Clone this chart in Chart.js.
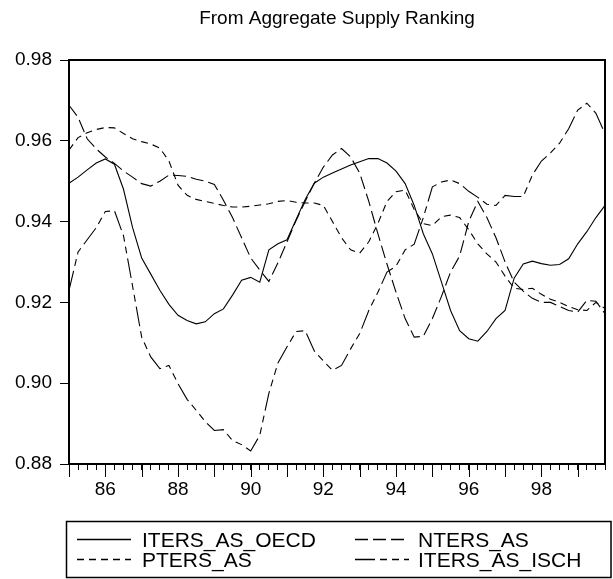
<!DOCTYPE html>
<html>
<head>
<meta charset="utf-8">
<script src="https://cdn.jsdelivr.net/npm/chart.js@4.4.0/dist/chart.umd.min.js"></script>
<style>
html, body { margin: 0; padding: 0; background: #fff; }
#wrap { width: 613px; height: 579px; position: relative; }
</style>
</head>
<body>
<div id="wrap"><canvas id="myChart"></canvas></div>
<script>
const chartTitle = 'From Aggregate Supply Ranking'
const years = ['85', '86', '87', '88', '89', '90', '91', '92', '93', '94', '95', '96', '97', '98', '99']
const labelYears = ['86', '88', '90', '92', '94', '96', '98']

// quarterly observations 1985Q1 .. 1999Q4
const itersAsOecd = [
  0.9495, 0.9510, 0.9528, 0.9545, 0.9555, 0.9542, 0.9480, 0.9385,
  0.9310, 0.9270, 0.9230, 0.9195, 0.9168, 0.9155, 0.9147, 0.9152,
  0.9172, 0.9184, 0.9218, 0.9255, 0.9262, 0.9250, 0.9330, 0.9345,
  0.9355, 0.9405, 0.9455, 0.9495, 0.9510, 0.9520, 0.9530, 0.9540,
  0.9548, 0.9556, 0.9556, 0.9545, 0.9525, 0.9494, 0.9440, 0.9370,
  0.9320, 0.9250, 0.9180, 0.9130, 0.9110, 0.9104, 0.9128, 0.9160,
  0.9180, 0.9260, 0.9295, 0.9302, 0.9296, 0.9292, 0.9294, 0.9308,
  0.9345, 0.9375, 0.9410, 0.9440
]
const ntersAs = [
  0.9688, 0.9658, 0.9605, 0.9580, 0.9560, 0.9544, 0.9525, 0.9510,
  0.9494, 0.9488, 0.9500, 0.9515, 0.9514, 0.9512, 0.9505, 0.9500,
  0.9492, 0.9453, 0.9410, 0.9360, 0.9310, 0.9280, 0.9252, 0.9298,
  0.9350, 0.9403, 0.9450, 0.9495, 0.9535, 0.9565, 0.9581, 0.9560,
  0.9520, 0.9450, 0.9370, 0.9295, 0.9225, 0.9160, 0.9114, 0.9116,
  0.9160, 0.9215, 0.9275, 0.9315, 0.9400, 0.9450, 0.9410, 0.9360,
  0.9300, 0.9250, 0.9228, 0.9210, 0.9200, 0.9200, 0.9190, 0.9180,
  0.9176, 0.9205, 0.9203, 0.9172
]
const ptersAs = [
  0.9577, 0.9608, 0.9620, 0.9628, 0.9633, 0.9632, 0.9618, 0.9605,
  0.9598, 0.9592, 0.9582, 0.9550, 0.9490, 0.9465, 0.9455, 0.9450,
  0.9445, 0.9440, 0.9436, 0.9436, 0.9438, 0.9441, 0.9444, 0.9450,
  0.9452, 0.9448, 0.9446, 0.9446, 0.9440, 0.9400, 0.9360, 0.9330,
  0.9322, 0.9350, 0.9395, 0.9450, 0.9474, 0.9478, 0.9430, 0.9395,
  0.9390, 0.9412, 0.9416, 0.9410, 0.9380, 0.9345, 0.9320, 0.9300,
  0.9265, 0.9235, 0.9232, 0.9235, 0.9220, 0.9208, 0.9200, 0.9190,
  0.9182, 0.9180, 0.9200, 0.9185
]
const itersAsIsch = [
  0.9230, 0.9325, 0.9355, 0.9385, 0.9425, 0.9427, 0.9365, 0.9240,
  0.9114, 0.9065, 0.9036, 0.9044, 0.8999, 0.8960, 0.8933, 0.8905,
  0.8883, 0.8885, 0.8858, 0.8848, 0.8832, 0.8871, 0.8975, 0.9050,
  0.9090, 0.9128, 0.9130, 0.9080, 0.9055, 0.9032, 0.9044, 0.9085,
  0.9123, 0.9180, 0.9225, 0.9275, 0.9290, 0.9330, 0.9344, 0.9410,
  0.9486, 0.9498, 0.9503, 0.9494, 0.9475, 0.9460, 0.9443, 0.9440,
  0.9465, 0.9462, 0.9462, 0.9515, 0.9550, 0.9570, 0.9594, 0.9630,
  0.9676, 0.9693, 0.9668, 0.9618
]

const quarters = []
years.forEach((y) => {
  ['Q1', 'Q2', 'Q3', 'Q4'].forEach((q) => quarters.push(y + q))
})

const font = '"Liberation Sans", Arial, sans-serif'

// frame, yearly ticks, title and legend box
const decor = {
  id: 'decor',
  afterDraw(chart) {
    const ctx = chart.ctx
    const a = chart.chartArea
    const xs = chart.scales.x
    ctx.save()
    ctx.strokeStyle = '#000'
    ctx.fillStyle = '#000'
    ctx.lineWidth = 2
    ctx.strokeRect(a.left, a.top, a.right - a.left, a.bottom - a.top)

    ctx.lineWidth = 1
    quarters.forEach((q, i) => {
      if (q.endsWith('Q1')) {
        const x = Math.round(xs.getPixelForValue(i)) + 0.5
        ctx.beginPath()
        ctx.moveTo(x, a.bottom)
        ctx.lineTo(x, a.bottom + 13)
        ctx.stroke()
      }
    })

    ctx.font = '19px ' + font
    ctx.textAlign = 'center'
    ctx.textBaseline = 'alphabetic'
    ctx.fillText(chartTitle, (a.left + a.right) / 2, 24)

    ctx.lineWidth = 1.5
    ctx.strokeRect(66.5, 521.5, 544.5, 56)
    const cols = [[77, 142], [355, 418]]
    const rows = [547, 567]
    ctx.textAlign = 'left'
    ctx.font = '21px ' + font
    chart.data.datasets.forEach((ds, i) => {
      const c = cols[i % 2]
      const y = rows[Math.floor(i / 2)]
      ctx.lineWidth = 1.5
      ctx.setLineDash(ds.borderDash || [])
      ctx.beginPath()
      ctx.moveTo(c[0], y - 7.5)
      ctx.lineTo(c[0] + 54, y - 7.5)
      ctx.stroke()
      ctx.setLineDash([])
      ctx.fillText(ds.label, c[1], y)
    })
    ctx.restore()
  }
}

const data = {
  labels: quarters,
  datasets: [
    { label: 'ITERS_AS_OECD', data: itersAsOecd, borderDash: [] },
    { label: 'NTERS_AS', data: ntersAs, borderDash: [13, 5] },
    { label: 'PTERS_AS', data: ptersAs, borderDash: [7, 5] },
    { label: 'ITERS_AS_ISCH', data: itersAsIsch, borderDash: [20, 5, 7, 5, 7, 5] }
  ].map((d) => Object.assign(d, {
    borderColor: '#000',
    borderWidth: 1.1,
    pointRadius: 0,
    tension: 0,
    fill: false
  }))
}

const config = {
  type: 'line',
  data: data,
  options: {
    responsive: true,
    maintainAspectRatio: false,
    animation: false,
    devicePixelRatio: 1,
    layout: { padding: { top: 60, right: 2, bottom: 0, left: 0 } },
    plugins: {
      legend: { display: false },
      title: { display: false },
      tooltip: { enabled: false }
    },
    scales: {
      x: {
        type: 'category',
        offset: false,
        afterFit: (s) => { s.height = 115 },
        border: { display: false },
        grid: { drawOnChartArea: false, tickLength: 6, tickColor: '#000', tickWidth: 1 },
        ticks: {
          autoSkip: false,
          maxRotation: 0,
          padding: 8,
          color: '#000',
          font: { family: font, size: 19 },
          callback: (v, i) => {
            const q = quarters[i]
            const y = q.slice(0, 2)
            return q.endsWith('Q1') && labelYears.includes(y) ? y : ''
          }
        }
      },
      y: {
        min: 0.88,
        max: 0.98,
        afterFit: (s) => { s.width = 69 },
        border: { display: false },
        grid: { drawOnChartArea: false, tickLength: 9, tickColor: '#000', tickWidth: 1 },
        ticks: {
          stepSize: 0.02,
          padding: 8,
          color: '#000',
          font: { family: font, size: 19 },
          callback: (v) => v.toFixed(2)
        }
      }
    }
  },
  plugins: [decor]
}

new Chart(document.getElementById('myChart'), config)
</script>
</body>
</html>
